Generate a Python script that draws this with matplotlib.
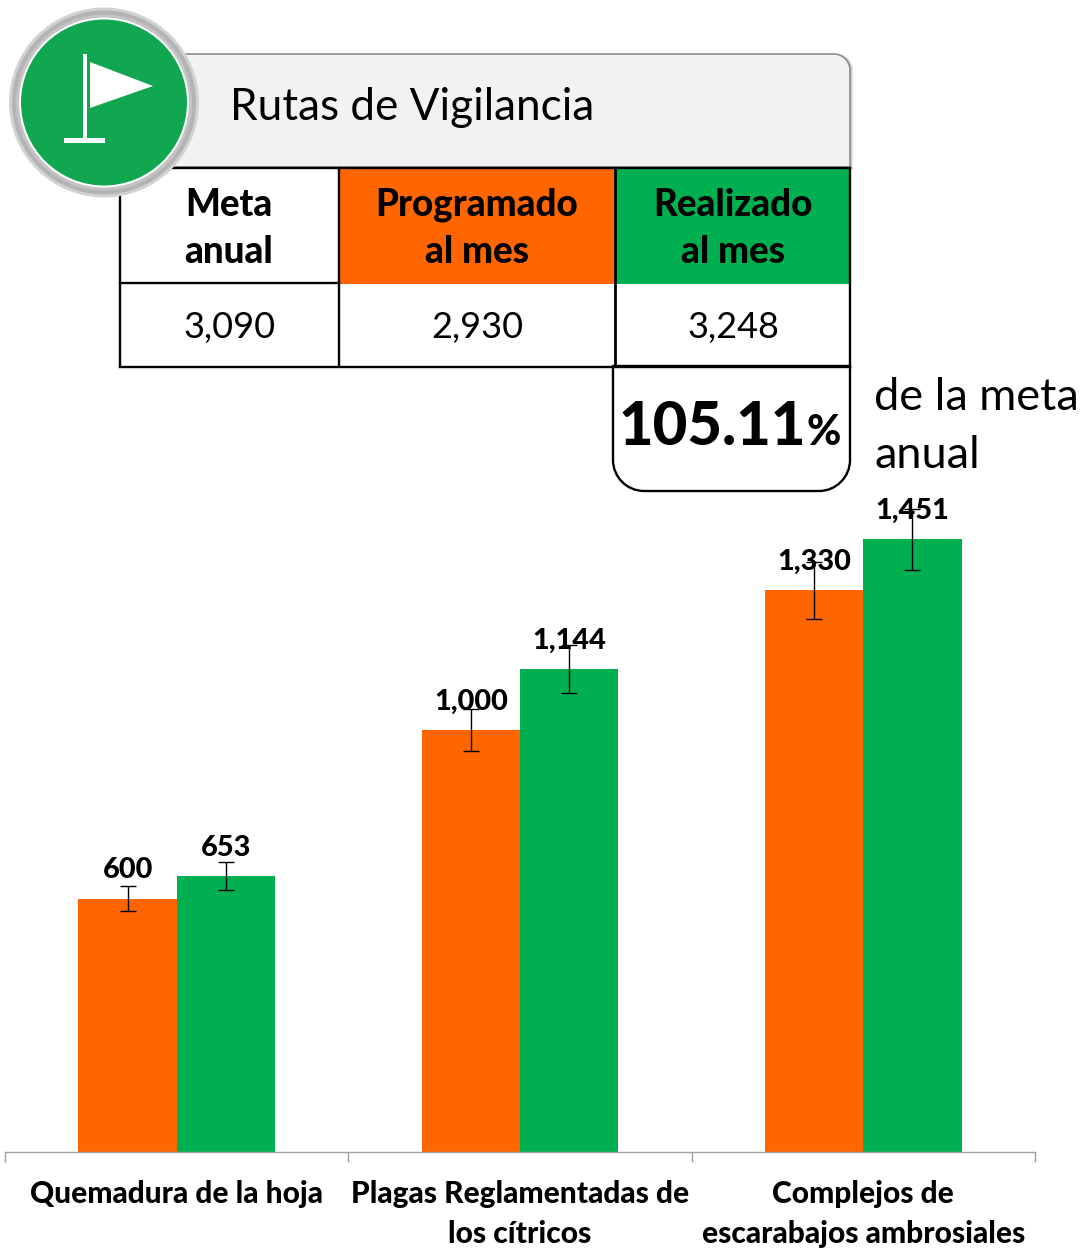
import matplotlib
matplotlib.use("Agg")
import matplotlib.pyplot as plt
from matplotlib.patches import Circle, Polygon, Rectangle, PathPatch
from matplotlib.path import Path

plt.rcParams['font.family'] = ['Lato', 'DejaVu Sans']

categories = ["Quemadura de la hoja", "Plagas Reglamentadas de\nlos cítricos",
              "Complejos de\nescarabajos ambrosiales"]
programado = [600, 1000, 1330]
realizado = [653, 1144, 1451]
err_programado = [30, 50, 67]
err_realizado = [33, 57, 73]
labels_programado = ["600", "1,000", "1,330"]
labels_realizado = ["653", "1,144", "1,451"]
table_heads = ["Meta\nanual", "Programado\nal mes", "Realizado\nal mes"]
table_vals = ["3,090", "2,930", "3,248"]
title = "Rutas de Vigilancia"

ORANGE = "#FF6600"
GREEN = "#00B050"
HEAVY = 900
W, H = 1084, 1252
fig = plt.figure(figsize=(W / 100, H / 100), dpi=100, facecolor="white")

# ---- bar chart
x0, x1, ytop, ybase = 5, 1035, 500, 1152
ax = fig.add_axes([x0 / W, 1 - ybase / H, (x1 - x0) / W, (ybase - ytop) / H])
ax.set_xlim(-0.5, 2.5)
ax.set_ylim(0, (ybase - ytop) / 0.4222)
ax.patch.set_alpha(0)
bw = 0.286
xs = range(3)
ax.bar([x - bw / 2 for x in xs], programado, bw, color=ORANGE, zorder=2)
ax.bar([x + bw / 2 for x in xs], realizado, bw, color=GREEN, zorder=2)
ekw = dict(fmt="none", ecolor="black", elinewidth=1.0, capsize=5.5, capthick=1.0, zorder=3)
ax.errorbar([x - bw / 2 for x in xs], programado, yerr=err_programado, **ekw)
ax.errorbar([x + bw / 2 for x in xs], realizado, yerr=err_realizado, **ekw)
for x, v, s in zip(xs, programado, labels_programado):
    ax.annotate(s, (x - bw / 2, v), xytext=(0, 20.5), textcoords="offset points", ha="center",
                va="center", fontsize=20.8, fontweight=HEAVY, zorder=4)
for x, v, s in zip(xs, realizado, labels_realizado):
    ax.annotate(s, (x + bw / 2, v), xytext=(0, 20.5), textcoords="offset points", ha="center",
                va="center", fontsize=20.8, fontweight=HEAVY, zorder=4)
for sp in ("top", "left", "right"):
    ax.spines[sp].set_visible(False)
ax.spines["bottom"].set_color("#A0A0A0")
ax.spines["bottom"].set_linewidth(1.0)
ax.set_yticks([])
ax.set_xticks([-0.5, 0.5, 1.5, 2.5])
ax.set_xticklabels([])
ax.tick_params(axis="x", length=7.5, width=1.0, color="#A0A0A0")
ax.set_xticks(list(xs), minor=True)
ax.set_xticklabels(categories, minor=True, fontsize=21.5, fontweight=HEAVY, linespacing=1.5, va="top")
ax.tick_params(axis="x", which="minor", length=0, pad=20.5)

# ---- infographic layer in pixel coordinates
ov = fig.add_axes([0, 0, 1, 1])
ov.set_xlim(0, W)
ov.set_ylim(H, 0)
ov.axis("off")
ov.patch.set_alpha(0)


def box_path(l, t, r, b, tr=0, bl=0, br=0):
    k = 0.45
    v = [(l, t), (r - tr, t)]
    c = [Path.MOVETO, Path.LINETO]
    if tr:
        v += [(r - tr * k, t), (r, t + tr * k), (r, t + tr)]
        c += [Path.CURVE4] * 3
    v += [(r, b - br)]
    c += [Path.LINETO]
    if br:
        v += [(r, b - br * k), (r - br * k, b), (r - br, b)]
        c += [Path.CURVE4] * 3
    v += [(l + bl, b)]
    c += [Path.LINETO]
    if bl:
        v += [(l + bl * k, b), (l, b - bl * k), (l, b - bl)]
        c += [Path.CURVE4] * 3
    v += [(l, t)]
    c += [Path.CLOSEPOLY]
    return Path(v, c)


# header banner with soft shadow
for off, col in ((3, "#E4E4E4"), (2, "#CFCFCF")):
    ov.add_patch(PathPatch(box_path(150, 54, 850 + off, 167 + off, tr=16), fc=col, ec="none", zorder=1))
ov.add_patch(PathPatch(box_path(150, 54, 850, 167, tr=16), fc="#F2F2F2", ec="#8C8C8C", lw=1.2, zorder=2))
ov.text(230, 107, title, fontsize=31.8, va="center", ha="left", zorder=3)

# table fills
ov.add_patch(Rectangle((339, 168), 275, 116, fc=ORANGE, ec="none", zorder=3))
ov.add_patch(Rectangle((616, 168), 234, 116, fc=GREEN, ec="none", zorder=3))
ov.add_patch(Rectangle((120, 168), 219, 198, fc="white", ec="none", zorder=2.5))

# table rules
lk = dict(color="black", lw=1.7, zorder=4, solid_capstyle="projecting")
ov.plot([120, 850], [168, 168], **lk)
ov.plot([120, 339], [283, 283], **lk)
ov.plot([120, 850], [366.5, 366.5], **lk)
ov.plot([120, 120], [168, 366], **lk)
ov.plot([339, 339], [168, 366], **lk)
ov.plot([615, 615], [168, 366], color="black", lw=2.0, zorder=4)
ov.plot([850, 850], [168, 366], **lk)

centers = [229, 477, 733]
for cx, head, val in zip(centers, table_heads, table_vals):
    ov.text(cx, 228.5, head, fontsize=26.5, fontweight=HEAVY, ha="center", va="center",
            linespacing=1.46, zorder=5)
    ov.text(cx, 327.5, val, fontsize=26, ha="center", va="center", zorder=5)

# percent box
ov.add_patch(PathPatch(box_path(613, 366, 850, 491, bl=31, br=31), fc="white", ec="black", lw=1.7, zorder=3))
ov.text(619, 445, "105.11", fontsize=43, fontweight=HEAVY, ha="left", va="baseline", zorder=5)
ov.text(807, 445, "%", fontsize=30, fontweight=HEAVY, ha="left", va="baseline", zorder=5)
ov.text(874, 398, "de la meta", fontsize=32.5, ha="left", va="center", zorder=5)
ov.text(874, 455, "anual", fontsize=32.5, ha="left", va="center", zorder=5)

# flag badge
cx, cy = 104, 102.5
for r, col in ((95, "#D2D2D2"), (92, "#B4B4B4"), (88, "#C4C4C4"), (85, "#FFFFFF"), (83, "#10A750")):
    ov.add_patch(Circle((cx, cy), r, fc=col, ec="none", zorder=6))
ov.add_patch(Rectangle((83, 54), 3.5, 86, fc="white", ec="none", zorder=7))
ov.add_patch(Rectangle((64, 138), 41, 5, fc="white", ec="none", zorder=7))
ov.add_patch(Polygon([(90, 62), (153, 86), (90, 108)], closed=True, fc="white", ec="none", zorder=7))

fig.savefig("out.png", dpi=100, facecolor="white")
